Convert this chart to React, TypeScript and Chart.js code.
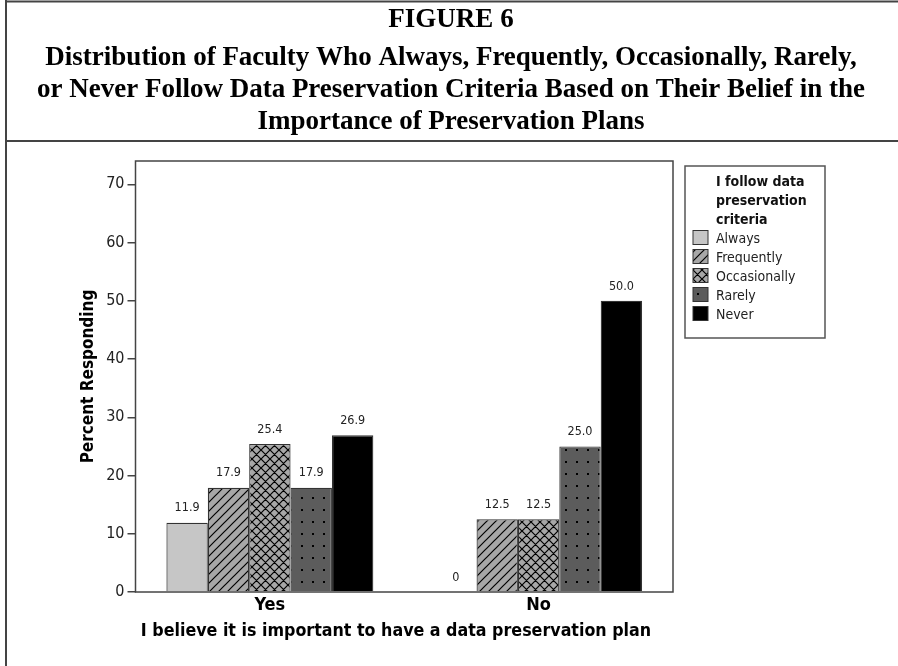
import React, { useEffect, useRef } from 'react';
import { Chart, registerables } from 'chart.js';

Chart.register(...registerables);

const categories = ['Yes', 'No'];
const seriesLabels = ['Always', 'Frequently', 'Occasionally', 'Rarely', 'Never'];
const alwaysValues = [11.9, 0];
const frequentlyValues = [17.9, 12.5];
const occasionallyValues = [25.4, 12.5];
const rarelyValues = [17.9, 25.0];
const neverValues = [26.9, 50.0];
const yTickValues = [0, 10, 20, 30, 40, 50, 60, 70];
const titleLines = [
  'FIGURE 6',
  'Distribution of Faculty Who Always, Frequently, Occasionally, Rarely,',
  'or Never Follow Data Preservation Criteria Based on Their Belief in the',
  'Importance of Preservation Plans',
];
const yAxisTitle = 'Percent Responding';
const xAxisTitle = 'I believe it is important to have a data preservation plan';
const legendTitleLines = ['I follow data', 'preservation', 'criteria'];

const SANS = '"DejaVu Sans Condensed", "DejaVu Sans", sans-serif';

function makeFill(kind: string): CanvasPattern | string {
  if (kind === 'light') return '#c6c6c6';
  if (kind === 'black') return '#000000';
  const c = document.createElement('canvas');
  const ctx = c.getContext('2d') as CanvasRenderingContext2D;
  if (kind === 'diag' || kind === 'cross') {
    const s = 9;
    c.width = s;
    c.height = s;
    ctx.fillStyle = '#a7a7a7';
    ctx.fillRect(0, 0, s, s);
    ctx.strokeStyle = '#000000';
    ctx.lineWidth = 1.2;
    ctx.beginPath();
    ctx.moveTo(-1, s + 1);
    ctx.lineTo(s + 1, -1);
    ctx.moveTo(-2, 2);
    ctx.lineTo(2, -2);
    ctx.moveTo(s - 2, s + 2);
    ctx.lineTo(s + 2, s - 2);
    if (kind === 'cross') {
      ctx.moveTo(-1, -1);
      ctx.lineTo(s + 1, s + 1);
      ctx.moveTo(-2, s - 2);
      ctx.lineTo(2, s + 2);
      ctx.moveTo(s - 2, -2);
      ctx.lineTo(s + 2, 2);
    }
    ctx.stroke();
  } else if (kind === 'dots') {
    c.width = 11;
    c.height = 12;
    ctx.fillStyle = '#5c5c5c';
    ctx.fillRect(0, 0, 11, 12);
    ctx.fillStyle = '#000000';
    ctx.fillRect(4, 5, 2, 2);
  }
  return ctx.createPattern(c, 'repeat') as CanvasPattern;
}

export default function App() {
  const canvasRef = useRef<HTMLCanvasElement | null>(null);

  useEffect(() => {
    document.body.style.margin = '0';
    document.body.style.overflow = 'hidden';
    const canvas = canvasRef.current;
    if (!canvas) return;

    const fills = [makeFill('light'), makeFill('diag'), makeFill('cross'), makeFill('dots'), makeFill('black')];
    const seriesValues = [alwaysValues, frequentlyValues, occasionallyValues, rarelyValues, neverValues];

    const decor = {
      id: 'decor',
      afterDatasetsDraw(chart: any) {
        const ctx: CanvasRenderingContext2D = chart.ctx;
        const area = chart.chartArea;
        ctx.save();
        ctx.font = `12.5px ${SANS}`;
        ctx.fillStyle = '#222222';
        ctx.textAlign = 'center';
        ctx.textBaseline = 'middle';
        chart.data.datasets.forEach((ds: any, di: number) => {
          const meta = chart.getDatasetMeta(di);
          meta.data.forEach((bar: any, i: number) => {
            const v = ds.data[i] as number;
            const txt = v === 0 ? '0' : v.toFixed(1);
            ctx.fillText(txt, bar.x, bar.y - 14.5);
          });
        });
        ctx.strokeStyle = '#444444';
        ctx.lineWidth = 1.5;
        ctx.strokeRect(area.left, area.top, area.right - area.left, area.bottom - area.top);
        ctx.restore();
      },
      afterDraw(chart: any) {
        const ctx: CanvasRenderingContext2D = chart.ctx;
        const area = chart.chartArea;
        ctx.save();
        ctx.strokeStyle = '#444444';
        ctx.lineWidth = 2;
        ctx.beginPath();
        ctx.moveTo(5, 1.5);
        ctx.lineTo(898, 1.5);
        ctx.moveTo(6, 0);
        ctx.lineTo(6, 666);
        ctx.moveTo(5, 141);
        ctx.lineTo(898, 141);
        ctx.stroke();

        ctx.fillStyle = '#000000';
        ctx.textAlign = 'center';
        ctx.textBaseline = 'alphabetic';
        ctx.font = 'bold 27px "Liberation Serif", serif';
        const baselines = [27, 65, 97, 129];
        titleLines.forEach((line, i) => ctx.fillText(line, 451, baselines[i]));

        ctx.save();
        ctx.font = `bold 17px ${SANS}`;
        ctx.translate(93, (area.top + area.bottom) / 2);
        ctx.rotate(-Math.PI / 2);
        ctx.fillText(yAxisTitle, 0, 0);
        ctx.restore();

        ctx.font = `bold 17.7px ${SANS}`;
        ctx.fillText(xAxisTitle, 396, 636);

        ctx.strokeStyle = '#555555';
        ctx.lineWidth = 1.5;
        ctx.strokeRect(685, 166, 140, 172);
        ctx.textAlign = 'left';
        ctx.font = `bold 14px ${SANS}`;
        ctx.fillStyle = '#111111';
        legendTitleLines.forEach((line, i) => ctx.fillText(line, 716, 186 + i * 19));
        ctx.font = `14px ${SANS}`;
        seriesLabels.forEach((label, i) => {
          const base = 243 + i * 19;
          ctx.fillStyle = fills[i] as any;
          ctx.fillRect(693, base - 12.5, 15, 14);
          ctx.strokeStyle = '#333333';
          ctx.lineWidth = 1;
          ctx.strokeRect(693, base - 12.5, 15, 14);
          ctx.fillStyle = '#222222';
          ctx.fillText(label, 716, base);
        });
        ctx.restore();
      },
    };

    const chart = new Chart(canvas, {
      type: 'bar',
      data: {
        labels: categories,
        datasets: seriesLabels.map((label, i) => ({
          label,
          data: seriesValues[i],
          backgroundColor: fills[i] as any,
          borderColor: '#333333',
          borderWidth: 1.2,
          categoryPercentage: 0.77,
          barPercentage: 1.0,
        })),
      },
      options: {
        responsive: false,
        animation: false,
        devicePixelRatio: 1,
        layout: { padding: { top: 161, right: 225, left: 0, bottom: 0 } },
        plugins: {
          legend: { display: false },
          tooltip: { enabled: false },
          title: { display: false },
        },
        scales: {
          x: {
            grid: { display: false, drawTicks: false },
            border: { display: false },
            ticks: {
              color: '#000000',
              font: { family: SANS, size: 18, weight: 'bold' },
              padding: 3,
            },
            afterFit: (scale: any) => {
              scale.height = 74;
            },
          },
          y: {
            min: 0,
            max: 74,
            grid: {
              drawOnChartArea: false,
              drawTicks: true,
              tickLength: 8,
              color: '#444444',
              lineWidth: 1.5,
            },
            border: { display: false },
            ticks: {
              stepSize: 10,
              color: '#222222',
              font: { family: SANS, size: 16 },
              padding: 3,
            },
            afterBuildTicks: (scale: any) => {
              scale.ticks = yTickValues.map((v) => ({ value: v }));
            },
            afterFit: (scale: any) => {
              scale.width = 135.5;
            },
          },
        },
      },
      plugins: [decor],
    });

    return () => chart.destroy();
  }, []);

  return (
    <div style={{ position: 'absolute', left: 0, top: 0, width: 898, height: 666, background: '#ffffff' }}>
      <canvas ref={canvasRef} width={898} height={666} style={{ width: 898, height: 666, display: 'block' }} />
    </div>
  );
}
